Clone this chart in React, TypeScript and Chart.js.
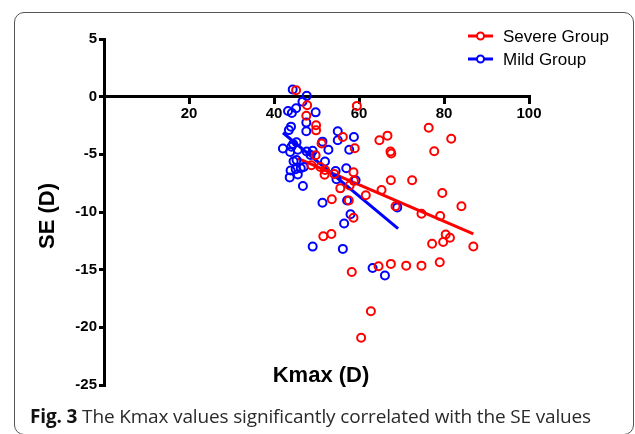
import React, { useEffect, useRef } from "react";
import { Chart, registerables } from "chart.js";

Chart.register(...registerables);

// Severe group (Kmax, SE)
const severeKmax = [45.2, 47.8, 59.5, 47.6, 49.9, 49.9, 56.2, 64.8, 66.7, 76.4, 81.7, 51.2, 59.0, 67.4, 67.6, 77.7, 49.8, 48.8, 50.9, 51.9, 54.2, 58.7, 58.8, 67.5, 72.5, 55.6, 57.8, 65.3, 61.6, 79.6, 53.6, 57.6, 68.6, 84.1, 74.7, 79.1, 58.7, 80.4, 81.4, 79.8, 77.2, 51.6, 53.5, 86.9, 58.3, 64.6, 67.5, 71.1, 74.7, 79.0, 62.8, 60.5, 52.0];
const severeSE = [0.55, -0.74, -0.8, -1.65, -2.48, -2.92, -3.5, -3.78, -3.38, -2.7, -3.65, -4.05, -4.48, -4.76, -4.93, -4.73, -5.08, -5.95, -6.1, -6.76, -6.7, -6.55, -7.3, -7.25, -7.25, -7.95, -7.7, -8.1, -8.55, -8.35, -8.9, -9.0, -9.5, -9.5, -10.15, -10.35, -10.5, -11.95, -12.24, -12.6, -12.76, -12.1, -11.9, -12.99, -15.2, -14.7, -14.5, -14.65, -14.65, -14.36, -18.6, -20.9, -6.36];

// Mild group (Kmax, SE)
const mildKmax = [44.4, 47.7, 46.7, 45.2, 43.3, 44.2, 49.8, 47.6, 44.0, 43.5, 47.6, 55.0, 58.8, 55.0, 51.4, 52.8, 57.7, 45.3, 42.1, 44.1, 43.8, 47.7, 48.6, 49.1, 44.6, 45.3, 52.0, 47.0, 46.3, 43.9, 45.1, 45.6, 43.7, 46.8, 57.0, 54.5, 54.7, 59.2, 51.4, 57.2, 58.0, 56.5, 69.0, 49.1, 56.2, 63.2, 66.1, 44.5, 45.6];
const mildSE = [0.62, 0.07, -0.43, -1.0, -1.25, -1.42, -1.36, -2.25, -2.6, -2.9, -3.0, -3.0, -3.5, -3.78, -3.9, -4.6, -4.6, -3.95, -4.5, -4.35, -4.8, -4.75, -5.05, -4.7, -5.6, -5.5, -5.62, -6.1, -6.2, -6.4, -6.3, -6.75, -7.0, -7.75, -6.2, -6.45, -7.15, -7.25, -9.2, -9.0, -10.2, -11.0, -9.6, -13.0, -13.2, -14.85, -15.5, -4.1, -4.6];

// Linear fit lines (endpoints)
const severeFitKmax = [45.6, 86.9];
const severeFitSE = [-5.36, -11.9];
const mildFitKmax = [42.1, 69.2];
const mildFitSE = [-3.13, -11.44];

const seriesNames = ["Severe Group", "Mild Group"];
const xTicks = [0, 20, 40, 60, 80, 100];
const yTicks = [5, 0, -5, -10, -15, -20, -25];

const RED = "rgb(255,0,0)";
const BLUE = "rgb(0,0,255)";

const toXY = (xs: number[], ys: number[]) => xs.map((x, i) => ({ x, y: ys[i] }));

const legendPlugin = {
  id: "customLegend",
  afterDraw(chart: any) {
    const ctx = chart.ctx;
    const items = [
      { label: seriesNames[0], color: RED, y: 36 },
      { label: seriesNames[1], color: BLUE, y: 59 },
    ];
    ctx.save();
    items.forEach((it) => {
      ctx.strokeStyle = it.color;
      ctx.lineWidth = 3;
      ctx.beginPath();
      ctx.moveTo(468, it.y);
      ctx.lineTo(493, it.y);
      ctx.stroke();
      ctx.lineWidth = 2;
      ctx.fillStyle = "#fff";
      ctx.beginPath();
      ctx.arc(480.5, it.y, 3.5, 0, Math.PI * 2);
      ctx.fill();
      ctx.stroke();
      ctx.fillStyle = "#000";
      ctx.font = "17px 'Liberation Sans', Arial, sans-serif";
      ctx.textBaseline = "middle";
      ctx.textAlign = "left";
      ctx.fillText(it.label, 503, it.y + 1);
    });
    ctx.restore();
  },
};

export default function App() {
  const canvasRef = useRef<HTMLCanvasElement | null>(null);

  useEffect(() => {
    if (!canvasRef.current) return;
    const tickFont = { family: "'Liberation Sans', Arial, sans-serif", size: 15, weight: "bold" as const };
    const chart = new Chart(canvasRef.current, {
      type: "scatter",
      data: {
        datasets: [
          {
            label: seriesNames[0],
            data: toXY(severeKmax, severeSE),
            borderColor: RED,
            backgroundColor: "rgba(0,0,0,0)",
            pointRadius: 4,
            pointBorderWidth: 2,
            order: 0,
          },
          {
            label: seriesNames[1],
            data: toXY(mildKmax, mildSE),
            borderColor: BLUE,
            backgroundColor: "rgba(0,0,0,0)",
            pointRadius: 4,
            pointBorderWidth: 2,
            order: 1,
          },
          {
            label: "Severe fit",
            data: toXY(severeFitKmax, severeFitSE),
            showLine: true,
            borderColor: RED,
            borderWidth: 3,
            pointRadius: 0,
            order: 2,
          },
          {
            label: "Mild fit",
            data: toXY(mildFitKmax, mildFitSE),
            showLine: true,
            borderColor: BLUE,
            borderWidth: 3,
            pointRadius: 0,
            order: 3,
          },
        ],
      },
      options: {
        responsive: false,
        animation: false,
        events: [],
        layout: { padding: { left: 0, top: 39, right: 106, bottom: 49 } },
        plugins: { legend: { display: false }, tooltip: { enabled: false } },
        scales: {
          x: {
            type: "linear",
            position: { y: 0 } as any,
            min: xTicks[0],
            max: xTicks[xTicks.length - 1],
            afterBuildTicks: (scale: any) => {
              scale.ticks = xTicks.map((v) => ({ value: v }));
            },
            ticks: {
              color: "#000",
              font: tickFont,
              padding: 2,
              maxRotation: 0,
              autoSkip: false,
              callback: (v: any) => (Number(v) === 0 ? "" : String(v)),
            },
            grid: { drawOnChartArea: false, drawTicks: true, tickLength: 6, color: "#000", lineWidth: 3 },
            border: { display: true, color: "#000", width: 3 },
          },
          y: {
            type: "linear",
            position: "left",
            min: yTicks[yTicks.length - 1],
            max: yTicks[0],
            afterBuildTicks: (scale: any) => {
              scale.ticks = yTicks.slice().reverse().map((v) => ({ value: v }));
            },
            afterFit: (scale: any) => {
              scale.width = 104;
            },
            ticks: { color: "#000", font: tickFont, padding: 2, autoSkip: false },
            grid: { drawOnChartArea: false, drawTicks: true, tickLength: 5, color: "#000", lineWidth: 3 },
            border: { display: true, color: "#000", width: 3 },
          },
        },
      },
      plugins: [legendPlugin],
    });
    return () => chart.destroy();
  }, []);

  return (
    <div style={{ position: "absolute", left: 0, top: 0, width: 635, height: 434, overflow: "hidden", background: "#fff" }}>
      <div
        style={{
          position: "absolute",
          left: 14,
          top: 12,
          width: 620,
          height: 423,
          border: "1.5px solid #555",
          borderRadius: 10,
          boxSizing: "border-box",
        }}
      />
      <canvas ref={canvasRef} width={635} height={434} style={{ position: "absolute", left: 0, top: 0 }} />
      <div
        style={{
          position: "absolute",
          left: 47,
          top: 216,
          transform: "translate(-50%, -50%) rotate(-90deg)",
          font: "bold 22px 'Liberation Sans', Arial, sans-serif",
          whiteSpace: "nowrap",
          color: "#000",
        }}
      >
        SE (D)
      </div>
      <div
        style={{
          position: "absolute",
          left: 321,
          top: 375,
          transform: "translate(-50%, -50%)",
          font: "bold 22px 'Liberation Sans', Arial, sans-serif",
          whiteSpace: "nowrap",
          color: "#000",
        }}
      >
        Kmax (D)
      </div>
      <div
        style={{
          position: "absolute",
          left: 30,
          top: 416,
          transform: "translateY(-50%)",
          font: "19px 'Open Sans', sans-serif",
          whiteSpace: "nowrap",
          color: "#2a2a2a",
          letterSpacing: -0.15,
        }}
      >
        <span style={{ fontWeight: 700, color: "#111" }}>Fig. 3</span> The Kmax values significantly correlated with the SE values
      </div>
    </div>
  );
}
